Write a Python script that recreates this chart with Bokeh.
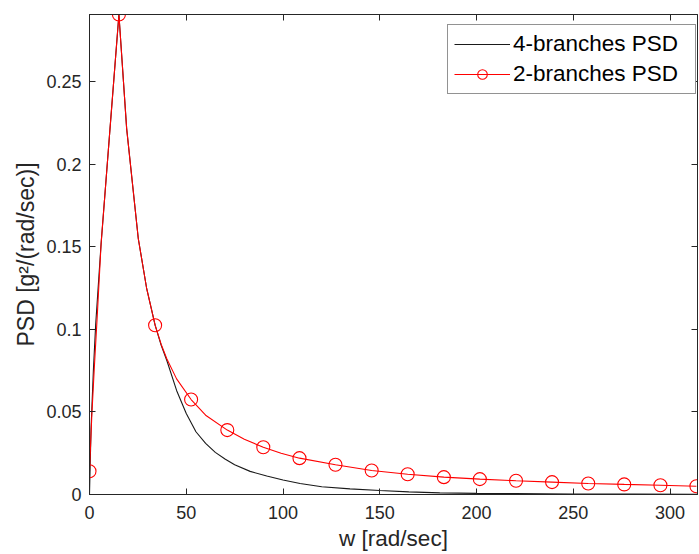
from bokeh.plotting import figure
from bokeh.models import Range1d, LinearAxis, Legend, LegendItem, FixedTicker
from bokeh.embed import file_html
from bokeh.resources import INLINE

# ---- data ----
black_w = [0, 0.8, 2, 3.2, 6, 10.6, 15.2, 19.2, 25.2, 29.5, 33.9, 37, 40, 45, 50, 55, 60, 65, 70, 75,
           83, 91.6, 100, 108.8, 120, 134.6, 150, 165, 181, 200, 220, 250, 280, 314.16]
black_psd = [0, 0.04, 0.075, 0.103, 0.152, 0.2215, 0.2906, 0.2215, 0.155, 0.125, 0.1025, 0.0905, 0.081,
             0.063, 0.049, 0.038, 0.031, 0.0255, 0.0215, 0.018, 0.014, 0.0112, 0.0088, 0.0067, 0.0047,
             0.0034, 0.0024, 0.0016, 0.0010, 0.0007, 0.0005, 0.0003, 0.0002, 0.0001]

red_w = [0, 1.2, 2.5, 4, 6, 10.6, 15.2, 19.2, 25.2, 29.5, 33.9, 37, 40, 45, 52.5, 60, 71.2, 80, 89.8, 99,
         108.5, 127.1, 145.8, 164.4, 183.1, 201.7, 220.4, 239.0, 257.7, 276.3, 295.0, 313.6]
red_psd = [0.0141, 0.048, 0.077, 0.108, 0.152, 0.2215, 0.2906, 0.2215, 0.155, 0.125, 0.1025, 0.091, 0.082,
           0.07, 0.0575, 0.048, 0.039, 0.0335, 0.0286, 0.025, 0.022, 0.018, 0.0145, 0.0123, 0.0105,
           0.0093, 0.0083, 0.0075, 0.0067, 0.0061, 0.0056, 0.0050]

marker_w = [0, 15.2, 33.9, 52.5, 71.2, 89.8, 108.5, 127.1, 145.8, 164.4, 183.1, 201.7, 220.4, 239.0,
            257.7, 276.3, 295.0, 313.6]
marker_psd = [0.0141, 0.2906, 0.1025, 0.0575, 0.039, 0.0286, 0.022, 0.018, 0.0145, 0.0123, 0.0105,
              0.0093, 0.0083, 0.0075, 0.0067, 0.0061, 0.0056, 0.0050]

x_ticks = [0, 50, 100, 150, 200, 250, 300]
x_tick_labels = ["0", "50", "100", "150", "200", "250", "300"]
y_ticks = [0, 0.05, 0.1, 0.15, 0.2, 0.25]
y_tick_labels = ["0", "0.05", "0.1", "0.15", "0.2", "0.25"]

series_names = ["4-branches PSD", "2-branches PSD"]
x_label = "w [rad/sec]"
y_label = "PSD [g\u00b2/(rad/sec)]"

FONT = "Liberation Sans"
AX = "#262626"

p = figure(width=699, height=554, output_backend="svg", toolbar_location=None,
           x_range=Range1d(0, 314.16), y_range=Range1d(0, 0.2906))
p.min_border_left = 89
p.min_border_right = 2
p.min_border_top = 14
p.min_border_bottom = 60
p.grid.visible = False
p.outline_line_color = AX
p.outline_line_width = 1
p.background_fill_color = "white"
p.border_fill_color = "white"

for ax, ticks, labels in ((p.xaxis[0], x_ticks, x_tick_labels), (p.yaxis[0], y_ticks, y_tick_labels)):
    ax.ticker = FixedTicker(ticks=ticks)
    ax.major_label_overrides = dict(zip(ticks, labels))
    ax.major_tick_in = 6
    ax.major_tick_out = 0
    ax.minor_tick_line_color = None
    ax.axis_line_color = AX
    ax.major_tick_line_color = AX
    ax.major_label_text_color = AX
    ax.major_label_text_font = FONT
    ax.major_label_text_font_size = "18px"
    ax.axis_label_text_font = FONT
    ax.axis_label_text_font_style = "normal"
    ax.axis_label_text_color = AX

p.xaxis[0].axis_label = x_label
p.xaxis[0].axis_label_text_font_size = "22.5px"
p.xaxis[0].major_label_standoff = 11
p.xaxis[0].axis_label_standoff = 4
p.yaxis[0].axis_label = y_label
p.yaxis[0].axis_label_text_font_size = "23px"
p.yaxis[0].major_label_standoff = 8
p.yaxis[0].axis_label_standoff = 4

# mirrored ticks (MATLAB box)
top = LinearAxis(ticker=FixedTicker(ticks=x_ticks), major_tick_in=6, major_tick_out=0,
                 minor_tick_line_color=None, axis_line_color=AX, major_tick_line_color=AX,
                 major_label_text_color=None, major_label_text_font_size="1px", major_label_standoff=0)
right = LinearAxis(ticker=FixedTicker(ticks=y_ticks), major_tick_in=6, major_tick_out=0,
                   minor_tick_line_color=None, axis_line_color=AX, major_tick_line_color=AX,
                   major_label_text_color=None, major_label_text_font_size="1px", major_label_standoff=0)
p.add_layout(top, "above")
p.add_layout(right, "right")

r_black = p.line(black_w, black_psd, line_color="#1a1a1a", line_width=1.1)
r_red = p.line(red_w, red_psd, line_color="#ff0000", line_width=1.1)
r_mark = p.scatter(marker_w, marker_psd, marker="circle", size=13, fill_color=None,
                   line_color="#ff0000", line_width=1.1)

legend = Legend(items=[LegendItem(label=series_names[0], renderers=[r_black]),
                       LegendItem(label=series_names[1], renderers=[r_red, r_mark])],
                location=(358, 400), margin=0)
legend.label_text_font = FONT
legend.label_text_font_size = "22.5px"
legend.label_text_color = "black"
legend.border_line_color = AX
legend.border_line_width = 1
legend.background_fill_alpha = 1
legend.glyph_width = 56
legend.glyph_height = 24
legend.label_height = 24
legend.label_width = 176
legend.label_standoff = 3
legend.padding = 6
legend.spacing = 4
p.add_layout(legend, "center")

open("out.html", "w").write(file_html(p, INLINE))
